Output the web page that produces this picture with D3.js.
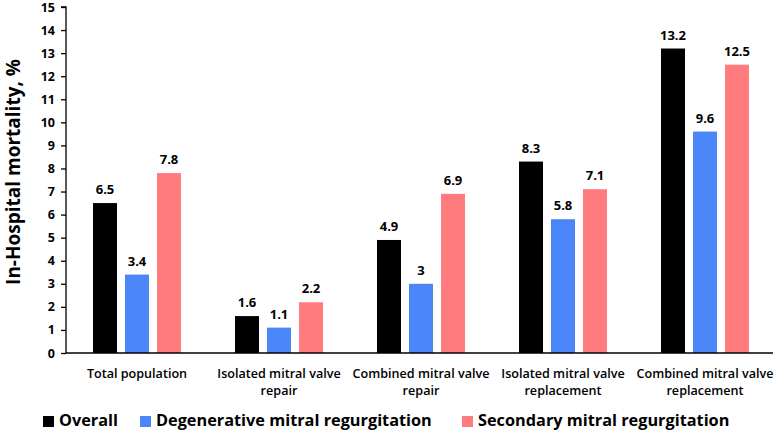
<!DOCTYPE html>
<html><head><meta charset="utf-8">
<script src="https://cdn.jsdelivr.net/npm/d3@7"></script>
<style>body{margin:0;background:#fff}svg{display:block}text{font-family:"Open Sans",sans-serif}</style>
</head><body><svg id="c" width="777" height="431"></svg>
<script>
const categories = [["Total population"],["Isolated mitral valve","repair"],["Combined mitral valve","repair"],["Isolated mitral valve","replacement"],["Combined mitral valve","replacement"]];
const seriesNames = ["Overall","Degenerative mitral regurgitation","Secondary mitral regurgitation"];
const seriesColors = ["#000000","#4a86f7","#ff7b7e"];
const overall = [6.5,1.6,4.9,8.3,13.2];
const degenerative = [3.4,1.1,3,5.8,9.6];
const secondary = [7.8,2.2,6.9,7.1,12.5];
const yTicks = [0,1,2,3,4,5,6,7,8,9,10,11,12,13,14,15];
const series = [overall, degenerative, secondary];

const svg = d3.select("#c");
const pL = 66, pR = 776, pT = 7, pB = 353;
const inner = 88;
const x0 = d3.scaleBand().domain(d3.range(categories.length)).range([pL, pR]).paddingInner(0).paddingOuter(0);
const x1 = d3.scaleBand().domain(d3.range(3)).range([0, inner]).paddingInner(0.25).paddingOuter(0);
const y = d3.scaleLinear().domain([0,15]).range([pB, pT]);

categories.forEach((c,i)=>{
  series.forEach((s,j)=>{
    const bx = x0(i) + (x0.bandwidth()-inner)/2 + x1(j);
    svg.append("rect").attr("x",bx).attr("y",y(s[i])).attr("width",x1.bandwidth()).attr("height",y(0)-y(s[i])).attr("fill",seriesColors[j]);
    svg.append("text").attr("x",bx+x1.bandwidth()/2).attr("y",y(s[i])-9).attr("text-anchor","middle")
      .attr("font-size",13).attr("font-weight","bold").attr("fill","#000").text(s[i]);
  });
  const t = svg.append("text").attr("text-anchor","middle").attr("font-size",12.6).attr("font-weight",600).attr("fill","#000");
  c.forEach((line,k)=>t.append("tspan").attr("x",x0(i)+x0.bandwidth()/2).attr("y",378+k*17).text(line));
});

const yAxis = svg.append("g").attr("transform",`translate(${pL},0)`).call(d3.axisLeft(y).tickValues(yTicks).tickSize(5).tickPadding(6));
yAxis.selectAll("text").attr("font-size",12.5).attr("font-weight","bold").attr("fill","#000").style("font-family","'Open Sans',sans-serif");
yAxis.selectAll("line,path").attr("stroke","#000").attr("stroke-width",1.3);
yAxis.select(".domain").attr("d",`M-5,${pT}H0V${pB}`);

svg.append("line").attr("x1",pL).attr("x2",pR-3).attr("y1",pB).attr("y2",pB).attr("stroke","#000").attr("stroke-width",1.3);

svg.append("text").attr("transform",`translate(20,${172}) rotate(-90)`).attr("text-anchor","middle")
  .attr("font-size",19).attr("font-weight","bold").attr("fill","#000").text("In-Hospital mortality, %");

const legX = [43,140,462];
seriesNames.forEach((n,j)=>{
  svg.append("rect").attr("x",legX[j]).attr("y",416).attr("width",11).attr("height",11).attr("fill",seriesColors[j]);
  svg.append("text").attr("x",legX[j]+16).attr("y",426).attr("font-size",16.3).attr("font-weight","bold").attr("fill","#000").text(n);
});
</script></body></html>
